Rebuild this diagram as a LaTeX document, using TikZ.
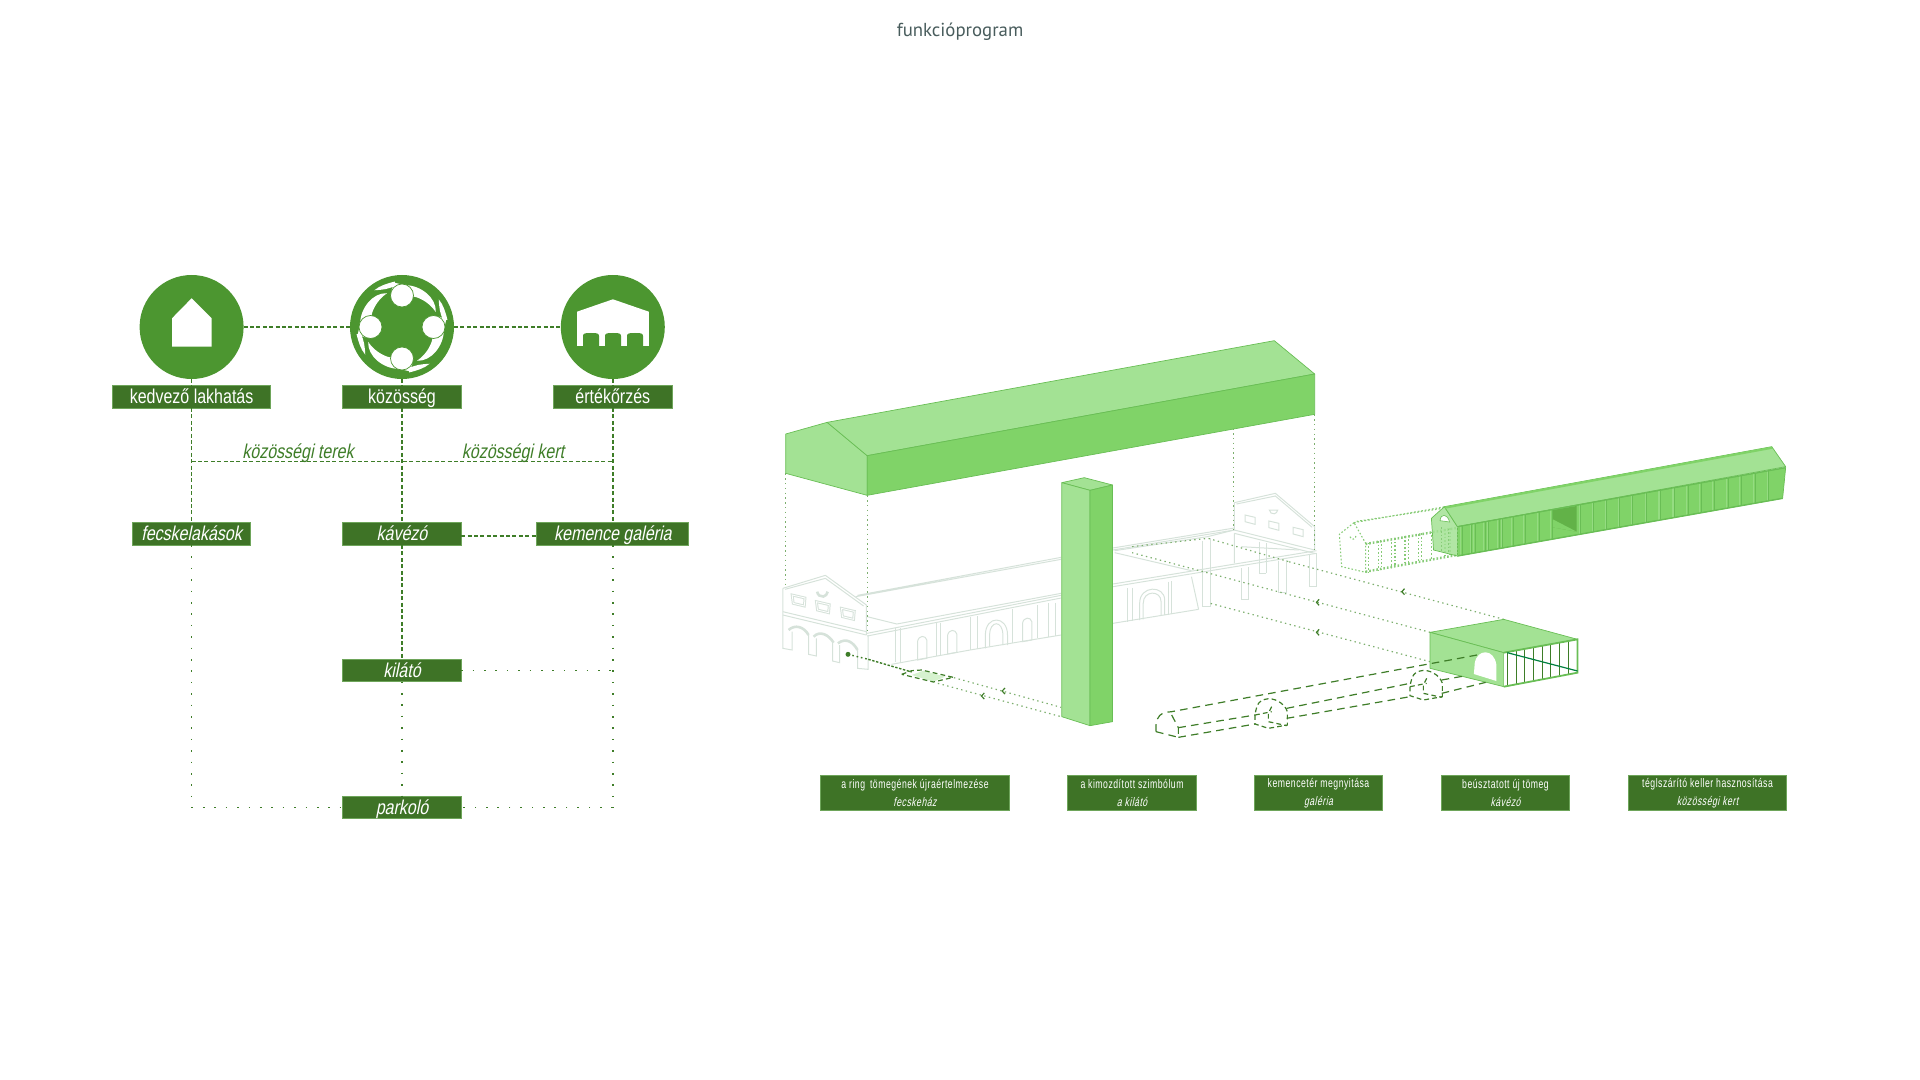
\documentclass[tikz,border=0pt]{standalone}
\usepackage{fontspec}
\usepackage{xcolor}
\usetikzlibrary{positioning, calc}
\newfontfamily\titlefont{PT Sans}
\newfontfamily\labelfont[FakeStretch=0.8]{Liberation Sans}
\newfontfamily\labelitfont[FakeStretch=0.8,FakeSlant=0.2]{Liberation Sans}
\newfontfamily\capfont[FakeStretch=0.7,LetterSpace=4]{Liberation Sans}
\newfontfamily\capitfont[FakeStretch=0.7,FakeSlant=0.2,LetterSpace=4]{Liberation Sans}
\definecolor{titlecolor}{RGB}{72,92,92}
\definecolor{iconcolor}{RGB}{76,150,48}
\definecolor{boxcolor}{RGB}{62,115,38}
\definecolor{boxedge}{RGB}{110,165,90}
\definecolor{linecolor}{RGB}{62,125,40}
\definecolor{lightvol}{RGB}{163,226,148}
\definecolor{darkvol}{RGB}{128,211,104}
\definecolor{voledge}{RGB}{105,190,85}
\definecolor{palecolor}{RGB}{214,226,218}
\definecolor{dotcolor}{RGB}{125,175,110}
\definecolor{holecolor}{RGB}{98,178,72}

\begin{document}
\begin{tikzpicture}[
    x=0.5pt, y=-0.5pt,
    circlenode/.style={circle, fill=iconcolor, minimum size=52pt, inner sep=0pt, outer sep=0pt},
    mainbox/.style={rectangle, draw=boxedge, line width=0.4pt, fill=boxcolor, text=white, minimum height=11.2pt, text height=8.2pt, text depth=1.2pt, inner sep=0pt, outer sep=0pt, font=\labelfont\fontsize{10}{10}\selectfont},
    funcbox/.style={mainbox, font=\labelitfont\fontsize{10}{10}\selectfont},
    capbox/.style={rectangle, draw=boxedge, line width=0.4pt, fill=boxcolor, text=white, minimum height=17.3pt, inner sep=0pt, outer sep=0pt, align=center, font=\capfont\fontsize{6.2}{9.2}\selectfont},
    linktext/.style={text=linecolor, inner sep=0pt, text height=7.2pt, text depth=2pt, font=\labelitfont\fontsize{10}{10}\selectfont},
    dashlink/.style={draw=linecolor, line width=0.7pt, dash pattern=on 2pt off 1.2pt},
    dotlink/.style={draw=linecolor, line width=0.7pt, dash pattern=on 0.8pt off 4.9pt},
    pale/.style={draw=palecolor, line width=0.5pt},
    palethick/.style={draw=palecolor, line width=1.3pt},
    guide/.style={draw=dotcolor, line width=0.6pt, dash pattern=on 0.7pt off 1.7pt},
    ghost/.style={draw=voledge!80, line width=0.55pt, dash pattern=on 0.8pt off 1pt},
    tube/.style={draw=linecolor, line width=0.6pt, dash pattern=on 3.8pt off 2.6pt},
    chev/.style={draw=linecolor, line width=0.6pt},
    vol/.style={draw=voledge, line width=0.35pt, line join=round},
    zoomA/.style={shift={(770,320)}, x=0.178571pt, y=-0.166667pt},
    zoomB/.style={shift={(1130,430)}, x=0.216814pt, y=-0.166667pt},
    zoomC/.style={shift={(1330,440)}, x=0.166667pt, y=-0.166667pt},
    zoomD/.style={shift={(1140,600)}, x=0.166667pt, y=-0.166667pt},
    zoomE/.style={shift={(770,560)}, x=0.166667pt, y=-0.166667pt}
]
\useasboundingbox (0,0) rectangle (1920,1080);
\node[text=titlecolor, font=\titlefont\fontsize{9.4}{10}\selectfont] (title) at (960,32) {funkcióprogram};

% circles and boxes
\node[circlenode] (ihaz) at (191.6,327) {};
\node[circlenode] (ikozos) at (402,327) {};
\node[circlenode] (iertek) at (612.8,327) {};
\node[mainbox, minimum width=79.2pt] (blakhatas) at (191.6,396.8) {kedvező lakhatás};
\node[mainbox, minimum width=59.2pt] (bkozos) at (402,396.8) {közösség};
\node[mainbox, minimum width=59.2pt] (bertek) at (612.8,396.8) {értékőrzés};
\node[funcbox, minimum width=59.2pt] (bfecske) at (191.6,533.8) {fecskelakások};
\node[funcbox, minimum width=59.2pt] (bkavezo) at (402,533.8) {kávézó};
\node[funcbox, minimum width=76pt] (bkemence) at (612.8,533.8) {kemence galéria};
\node[funcbox, minimum width=59.2pt] (bkilato) at (402,670.3) {kilátó};
\node[funcbox, minimum width=59.2pt] (bparkolo) at (402,807.3) {parkoló};

\coordinate (terekL) at (191.6,461.7);
\coordinate (terekR) at (612.8,461.7);
\coordinate (sarokL) at (191.6,807.3);
\coordinate (sarokR) at (612.8,807.3);
\coordinate (kilatoR) at (612.8,670.3);

\draw[dashlink] (ihaz.east) -- (ikozos.west);
\draw[dashlink] (ikozos.east) -- (iertek.west);
\draw[dashlink] (ihaz.south) -- (blakhatas.north);
\draw[dashlink] (ikozos.south) -- (bkozos.north);
\draw[dashlink] (iertek.south) -- (bertek.north);
\draw[dashlink] (blakhatas.south) -- (bfecske.north);
\draw[dashlink] (bkozos.south) -- (bkavezo.north);
\draw[dashlink] (bertek.south) -- (bkemence.north);
\draw[dashlink] (bkavezo.south) -- (bkilato.north);
\draw[dashlink] (terekL) -- (terekR);
\draw[dashlink] ([yshift=-1pt]bkavezo.east) -- ([yshift=-1pt]bkemence.west);
\draw[dotlink] (bfecske.south) -- (sarokL) -- (bparkolo.west);
\draw[dotlink] (bkemence.south) -- (sarokR) -- (bparkolo.east);
\draw[dotlink] (bkilato.south) -- (bparkolo.north);
\draw[dotlink] (bkilato.east) -- (kilatoR);

\node[linktext] (terek) at (298,453) {közösségi terek};
\node[linktext] (kert) at (513,453) {közösségi kert};

% icons
\fill[white] (172,318.3) -- (191.6,298.3) -- (211.6,318.3) -- (211.6,346.7) -- (172,346.7) -- cycle;
\fill[white] (577,311.7) -- (612.9,299.3) -- (648.8,311.7) -- (648.8,346) -- (577,346) -- cycle;
\foreach \bx in {583,605,627}
    \fill[iconcolor] (\bx,346) -- (\bx,336) .. controls (\bx,333) and (\bx+3,333) .. (\bx+8,333) .. controls (\bx+13,333) and (\bx+16,333) .. (\bx+16,336) -- (\bx+16,346) -- cycle;
\begin{scope}[shift={(402,327)}, x=0.5pt, y=0.5pt]
    \foreach \rot in {0,90,180,270} {
        \fill[white, rotate=\rot] (176:42) .. controls (155:46) and (130:45) .. (114:37) .. controls (135:37) and (155:34) .. (163:32) -- cycle;
        \fill[white, rotate=\rot] (127:46) .. controls (118:47) and (108:46) .. (99:46) -- (99:42) .. controls (108:40) and (118:42) .. (127:46) -- cycle;
        \fill[white, rotate=\rot] (176:42) -- (190:45) -- (196:38) -- (180:32) -- cycle;
    }
    \foreach \rot in {0,90,180,270}
        \filldraw[fill=white, draw=iconcolor, line width=0.35pt, rotate=\rot] (31.5,0) circle (11.5);
\end{scope}

% existing building
\begin{scope}[zoomA]
    \draw[pale] (36,805) -- (155,766) -- (270,855) -- (270,945);
    \draw[pale] (42,808) -- (155,775) -- (262,858);
    \draw[pale] (36,805) -- (36,985) -- (62,990) -- (62,935);
    \draw[pale] (36,875) -- (270,935) (36,885) -- (270,945);
    \draw[pale] (108,945) -- (108,1003) -- (130,1008) -- (130,955);
    \draw[pale] (175,968) -- (175,1023) -- (195,1028) -- (195,975);
    \draw[pale] (245,990) -- (245,1045) -- (275,1048) -- (275,945);
    \draw[palethick] (52,930) .. controls (70,912) and (95,920) .. (108,945);
    \draw[palethick] (122,950) .. controls (140,930) and (165,945) .. (178,968);
    \draw[palethick] (190,970) .. controls (215,950) and (235,970) .. (245,990);
    \foreach \wx/\wy in {62/825,130/845,200/865}
        \draw[pale, double=white, double distance=0.4pt] (\wx,\wy) -- (\wx+36,\wy+9) -- (\wx+34,\wy+33) -- (\wx+3,\wy+25) -- cycle;
    \draw[palethick] (132,815) arc (170:10:15 and 18);
    % long wall
    \draw[pale] (272,940) -- (815,826) (272,948) -- (815,834);
    \draw[pale] (240,830) -- (815,718) (245,826) -- (815,712);
    \draw[pale] (960,792) -- (1530,692) (960,800) -- (1530,700);
    \draw[pale] (960,690) -- (1300,630) (960,684) -- (1300,624);
    \draw[pale] (272,890) -- (355,912) -- (815,820);
    \draw[pale] (340,1033) -- (560,990) -- (815,945);
    \draw[pale] (960,910) -- (1200,868);
    \foreach \px/\pt in {350/925,365/925,465/908,478/908,560/890,580/888,680/868,750/855,780/850,800/848,1000/805,1015/803,1115/785,1125/783}
        \draw[pale] (\px,\pt) -- (\px,{\pt+100});
    \draw[pale] (603,985) -- (603,945) .. controls (603,885) and (665,885) .. (665,945) -- (665,975);
    \draw[pale] (615,980) -- (615,945) .. controls (615,900) and (652,900) .. (652,945) -- (652,975);
    \foreach \wx/\wy in {413/980,497/962,707/925}
        \draw[pale] (\wx,\wy+40) -- (\wx,\wy-15) .. controls (\wx+3,\wy-35) and (\wx+23,\wy-35) .. (\wx+26,\wy-20) -- (\wx+26,\wy+35) -- cycle;
    \draw[pale] (1035,900) -- (1035,850) .. controls (1035,795) and (1105,795) .. (1105,840) -- (1105,885);
    \draw[pale] (1045,898) -- (1045,850) .. controls (1045,810) and (1095,810) .. (1095,845) -- (1095,885);
    \draw[pale] (1180,770) -- (1200,868);
    % far end
    \draw[pale] (1300,548) -- (1415,520) -- (1525,620) -- (1525,690);
    \draw[pale] (1306,552) -- (1415,528) -- (1518,622);
    \draw[pale] (1300,548) -- (1300,630) -- (1525,690);
    \draw[pale] (1300,640) -- (1525,700);
    \foreach \wx/\wy in {1330/585,1397/603,1465/622}
        \draw[pale] (\wx,\wy) -- (\wx+28,\wy+7) -- (\wx+28,\wy+28) -- (\wx,\wy+20) -- cycle;
    \draw[pale] (1398,570) arc (170:10:12 and 14) -- cycle;
    \draw[pale] (965,692) -- (1225,650) -- (1300,630);
    \draw[pale] (965,698) -- (1180,752);
    \foreach \px/\pa/\pb in {1210/662/860,1232/655/860,1320/745/838,1340/742/838,1370/665/760,1390/670/760,1425/722/818,1445/720/818,1510/705/800,1530/700/800}
        \draw[pale] (\px,\pa) -- (\px,\pb);
    \draw[pale] (1210,860) -- (1232,860) (1320,838) -- (1340,838) (1370,760) -- (1390,760) (1425,818) -- (1445,818) (1510,800) -- (1530,800);
    \draw[pale] (1300,640) -- (1300,730) (1320,680) -- (1480,690);
    % guides
    \draw[guide] (44,460) -- (44,800);
    \draw[guide] (272,526) -- (272,930);
    \draw[guide] (1298,325) -- (1298,630);
    \draw[guide] (1525,283) -- (1525,690);
\end{scope}

% guides to the moved volumes
\begin{scope}[zoomB]
    \draw[guide] (862,568) -- (366,395);
    \draw[guide] (692,607) -- (5,368);
    \draw[guide] (692,695) -- (185,520);
    \draw[guide] (5,350) -- (180,325) -- (366,395);
    \foreach \cx/\cy in {627/485,430/517,430/607}
        \draw[chev] (\cx+6,\cy-9) -- (\cx,\cy) -- (\cx+6,\cy+9);
\end{scope}
\begin{scope}[zoomA]
    \draw[guide] (515,1073) -- (815,1162);
    \draw[guide] (470,1090) -- (815,1190);
    \foreach \cx/\cy in {650/1113,592/1128}
        \draw[chev] (\cx+8,\cy-9) -- (\cx,\cy) -- (\cx+8,\cy+9);
    % roof volume
    \filldraw[vol, fill=lightvol] (44,342) -- (160,307) -- (272,407) -- (272,526) -- (44,460) -- cycle;
    \filldraw[vol, fill=lightvol] (160,307) -- (1412,62) -- (1525,162) -- (272,407) -- cycle;
    \filldraw[vol, fill=darkvol] (272,407) -- (1525,162) -- (1525,283) -- (272,526) -- cycle;
    % tower
    \filldraw[vol, fill=lightvol] (817,488) -- (880,473) -- (959,495) -- (896,511) -- cycle;
    \filldraw[vol, fill=lightvol] (817,488) -- (896,511) -- (896,1217) -- (817,1190) -- cycle;
    \filldraw[vol, fill=darkvol] (896,511) -- (959,495) -- (959,1205) -- (896,1217) -- cycle;
\end{scope}

% ring volume on the ground
\begin{scope}[zoomE]
    \fill[lightvol!45] (460,332) -- (525,350) -- (490,365) -- (425,345) -- cycle;
    \draw[tube, dash pattern=on 2.4pt off 1.6pt] (395,343) -- (425,332) -- (455,330) -- (550,352) -- (490,366) -- cycle;
    \fill[linecolor] (234,283) circle (1.25pt);
    \draw[dotlink, dash pattern=on 0.8pt off 1.4pt] (234,283) -- (295,298);
    \draw[dotlink, dash pattern=on 1.2pt off 0.8pt] (295,298) -- (425,336);
\end{scope}

% long building, ghost then solid
\begin{scope}[zoomC]
    \draw[ghost] (72,248) -- (28,283) -- (35,380) -- (107,397) -- (107,310) -- cycle;
    \draw[ghost] (72,248) -- (345,200) (80,244) -- (340,205);
    \draw[ghost] (107,310) -- (380,262) (107,314) -- (380,266);
    \draw[ghost] (107,397) -- (380,347) (107,393) -- (380,343);
    \foreach \gx in {115,145,155,185,195,225,235,265,275,305,345,360} {
        \pgfmathsetmacro\gt{310-(\gx-107)*0.176}
        \pgfmathsetmacro\gb{397-(\gx-107)*0.183}
        \draw[ghost] (\gx,\gt) -- (\gx,\gb);
    }
    \draw[ghost] (60,290) arc (170:-40:9);
\end{scope}
\begin{scope}[zoomB]
    \filldraw[vol, fill=lightvol, fill opacity=0.85] (695,265) -- (725,230) -- (755,290) -- (755,378) -- (700,360) -- cycle;
    \filldraw[fill=white, draw=voledge, line width=0.3pt] (715,272) .. controls (716,250) and (732,250) .. (737,276) -- cycle;
    \filldraw[vol, fill=lightvol] (725,230) -- (1480,50) -- (1512,110) -- (755,290) -- cycle;
    \fill[darkvol] (725,230) -- (1480,50) -- (1483,56) -- (727,236) -- cycle;
    \filldraw[vol, fill=darkvol] (755,290) -- (1512,113) -- (1505,205) -- (755,378) -- cycle;
    \foreach \sx in {763,785,793,816,824,848,856,880,908,940,970,1036,1066,1096,1126,1156,1188,1220,1252,1284,1314,1344,1376,1406,1438,1470} {
        \pgfmathsetmacro\st{290-(\sx-755)*0.2338}
        \pgfmathsetmacro\sb{378-(\sx-755)*0.2307}
        \draw[draw=lightvol!60!darkvol, line width=0.6pt] (\sx,\st) -- (\sx,\sb);
        \draw[draw=voledge, line width=0.35pt] (\sx+3,\st) -- (\sx+3,\sb);
    }
    \fill[holecolor] (975,240) -- (1030,228) -- (1030,305) -- (975,292) -- cycle;
    \fill[darkvol] (975,268) -- (1030,305) -- (975,292) -- cycle;
    \draw[vol, line width=0.7pt] (755,378) -- (1505,205);
    \draw[vol, line width=0.6pt] (755,290) -- (1512,113);
    \draw[ghost] (755,290) -- (755,378) (735,296) -- (735,368) (718,292) -- (718,362);

    % cafe block
    \filldraw[vol, fill=lightvol] (692,607) -- (862,568) -- (1032,628) -- (862,668) -- cycle;
    \filldraw[vol, fill=lightvol] (692,607) -- (862,668) -- (862,770) -- (692,715) -- cycle;
    \fill[white] (793,732) -- (795,700) .. controls (800,655) and (840,655) .. (845,705) -- (845,753) -- cycle;
    \fill[white] (862,668) -- (1032,628) -- (1032,728) -- (862,770) -- cycle;
    \foreach \vx in {870,890,910,930,950,970,990,1010}
        \draw[draw=linecolor, line width=0.45pt] (\vx,{668-(\vx-862)*0.2353}) -- (\vx,{768-(\vx-862)*0.2471});
    \draw[draw=voledge, line width=0.9pt] (862,668) -- (1032,628) -- (1032,728) -- (862,770);
    \draw[draw=black!50!blue!50!green, line width=0.6pt] (870,668) -- (1032,723);
\end{scope}

% dashed tube
\begin{scope}[zoomD]
    \draw[tube] (48,395) -- (48,375) .. controls (50,350) and (60,337) .. (95,335) -- (1011,165);
    \draw[tube] (48,395) -- (115,412);
    \draw[tube] (95,345) -- (115,383) -- (115,412);
    \draw[tube] (115,383) -- (345,345);
    \draw[tube] (115,412) -- (345,372);
    \draw[tube] (440,325) -- (810,250);
    \draw[tube] (440,355) -- (810,290);
    \draw[tube] (905,240) -- (972,228);
    \draw[tube] (905,280) -- (1037,247);
    \foreach \bs/\bt in {0/0,465/-85} {
        \begin{scope}[shift={(\bs,\bt)}]
            \draw[tube, dash pattern=on 2.4pt off 1.6pt] (345,345) -- (345,372) -- (385,385) -- (442,375) -- (442,335) .. controls (435,310) and (400,290) .. (375,298) .. controls (360,300) and (350,310) .. (345,345);
            \draw[tube, dash pattern=on 2.4pt off 1.6pt] (395,320) -- (385,340) -- (385,365) -- (440,377);
            \draw[tube, dash pattern=on 2.4pt off 1.6pt] (345,345) -- (395,335);
        \end{scope}
    }
\end{scope}

% captions
\node[capbox, minimum width=94.3pt] (cfecske) at (915,793) {a ring\, tömegének újraértelmezése\\\capitfont fecskeház};
\node[capbox, minimum width=64.3pt] (ckilato) at (1132,793) {a kimozdított szimbólum\\\capitfont a kilátó};
\node[capbox, minimum width=64.2pt] (cgaleria) at (1318.5,793) {kemencetér megnyitása\\\capitfont galéria};
\node[capbox, minimum width=64.2pt] (ckavezo) at (1505.5,793) {beúsztatott új tömeg\\\capitfont kávézó};
\node[capbox, minimum width=79.2pt] (ckert) at (1707.5,793) {téglszárító keller hasznosítása\\\capitfont közösségi kert};
\end{tikzpicture}
\end{document}
